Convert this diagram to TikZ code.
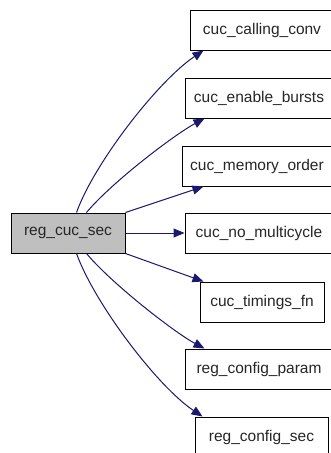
\documentclass[tikz,border=0pt]{standalone}
\usepackage{fontspec}
\setmainfont{Liberation Sans}
\usetikzlibrary{arrows.meta}
\definecolor{edgeblue}{HTML}{191970}
\tikzset{
  fn/.style={draw=black, line width=1pt, fill=white, minimum height=40pt, inner sep=0pt, font=\fontsize{15.5}{18}\selectfont, text=black!85},
  callarrow/.style={draw=edgeblue, line width=1pt, -{Triangle[length=11pt,width=9pt]}},
}
\begin{document}
\begin{tikzpicture}[x=1pt,y=-1pt]
\useasboundingbox (0,0) rectangle (331,453);
\begin{scope}
\clip (0,0) rectangle (331,453);
\node[fn, fill=black!25, minimum width=114pt] (src) at (68,233) {reg\_cuc\_sec};
\node[fn, minimum width=144pt] (a) at (262,30) {cuc\_calling\_conv};
\node[fn, minimum width=148pt] (b) at (259,98) {cuc\_enable\_bursts};
\node[fn, minimum width=150pt] (c) at (257,166) {cuc\_memory\_order};
\node[fn, minimum width=148pt] (d) at (259,233) {cuc\_no\_multicycle};
\node[fn, minimum width=124pt] (e) at (262,302) {cuc\_timings\_fn};
\node[fn, minimum width=148pt] (f) at (259,369) {reg\_config\_param};
\node[fn, minimum width=133pt] (g) at (261.5,437) {reg\_config\_sec};

\draw[callarrow] ([xshift=66pt]src.north west) .. controls +(18,-50) and +(-45,30) .. ([xshift=14pt]a.south west);
\draw[callarrow] ([xshift=76pt]src.north west) .. controls +(25,-30) and +(-30,16) .. ([xshift=20pt]b.south west);
\draw[callarrow] (src.north east) -- ([xshift=22pt]c.south west);
\draw[callarrow] (src.east) -- (d.west);
\draw[callarrow] (src.south east) -- ([xshift=4pt]e.north west);
\draw[callarrow] ([xshift=76pt]src.south west) .. controls +(25,30) and +(-30,-16) .. ([xshift=20pt]f.north west);
\draw[callarrow] ([xshift=66pt]src.south west) .. controls +(18,50) and +(-45,-30) .. ([xshift=8pt]g.north west);
\end{scope}
\end{tikzpicture}
\end{document}
